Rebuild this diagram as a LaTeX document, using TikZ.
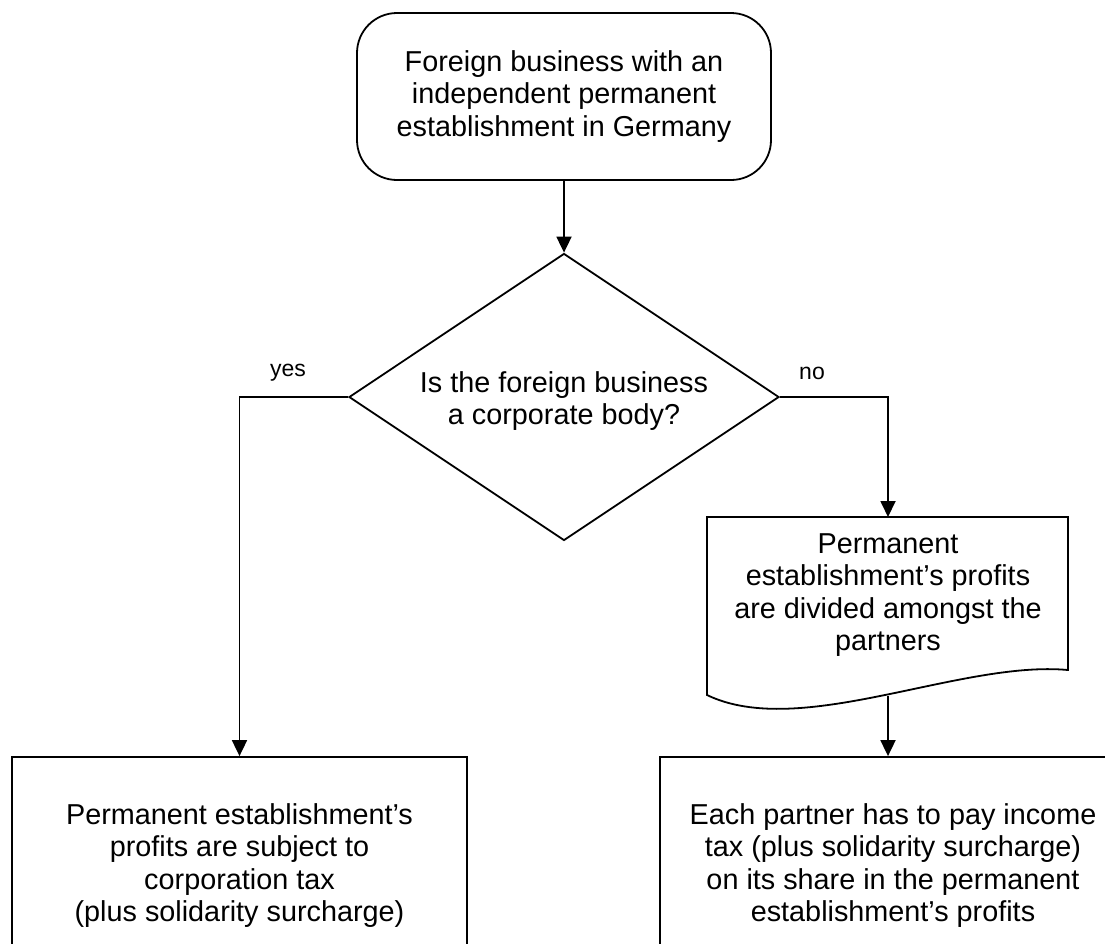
\documentclass[tikz,border=0pt]{standalone}
\usepackage{fontspec}
\setmainfont{Liberation Sans}
\usetikzlibrary{arrows.meta,shapes.geometric}
\begin{document}
\begin{tikzpicture}[x=1pt,y=-1pt,
  line width=1.8pt,
  every node/.style={font=\fontsize{28.8}{32.5}\selectfont, align=center, inner sep=0pt},
  flow/.style={-{Triangle[length=16pt,width=15pt]}},
  box/.style={draw, rectangle},
  lbl/.style={font=\fontsize{23}{26}\selectfont}
]
\useasboundingbox (0,0) rectangle (1105,943);
\clip (0,0) rectangle (1105,943);
\fill[white] (0,0) rectangle (1105,943);

% start terminator
\node[draw, rectangle, rounded corners=40pt, minimum width=414pt, minimum height=167pt] (start) at (564,96.5)
  {Foreign business with an\\independent permanent\\establishment in Germany};

% decision
\node[draw, diamond, minimum width=430pt, minimum height=287pt] (dec) at (564,397) {};
\node (dectext) at (564,401) {Is the foreign business\\a corporate body?};

% document shape
\coordinate (doctop) at (888,517);
\coordinate (docbot) at (888,696);
\draw (707,695) -- (707,517) -- (1068,517) -- (1068,670)
  .. controls (960,660) and (800,740) .. (707,695) -- cycle;
\node (doctext) at (888,595) {Permanent\\establishment’s profits\\are divided amongst the\\partners};

% result boxes
\node[box, minimum width=455pt, minimum height=217pt] (lbox) at (239.5,865.5)
  {Permanent establishment’s\\profits are subject to\\corporation tax\\(plus solidarity surcharge)};
\node[box, minimum width=466pt, minimum height=217pt] (rbox) at (893,865.5)
  {Each partner has to pay income\\tax (plus solidarity surcharge)\\on its share in the permanent\\establishment’s profits};

% connectors
\draw[flow] (start.south) -- (dec.north);
\draw[flow] (dec.west) -| (lbox.north);
\draw[flow] (dec.east) -| (doctop);
\draw[flow] (docbot) -- (docbot |- rbox.north);

% labels
\node[lbl] (yes) at (288,373) {yes};
\node[lbl] (no) at (812,373) {no};
\end{tikzpicture}
\end{document}
